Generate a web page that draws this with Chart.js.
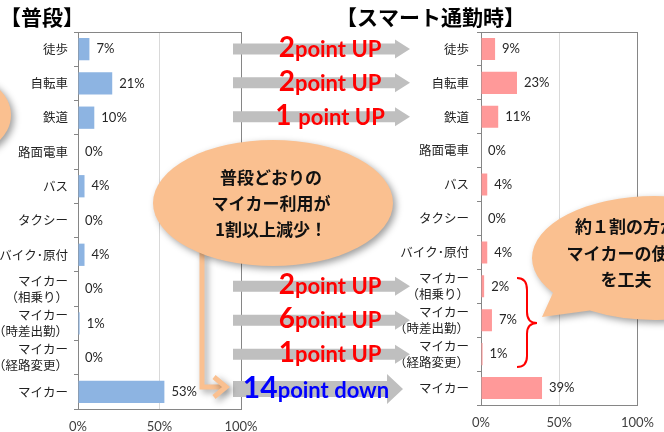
<!DOCTYPE html>
<html><head><meta charset="utf-8">
<script src="https://cdn.jsdelivr.net/npm/chart.js@4.4.1/dist/chart.umd.min.js"></script>
<style>
html,body{margin:0;padding:0;background:#fff;}
#wrap{position:relative;width:664px;height:432px;overflow:hidden;background:#fff;}
canvas{position:absolute;left:0;top:0;}
</style></head><body>
<div id="wrap"><canvas id="c1" width="664" height="432"></canvas><canvas id="c2" width="664" height="432"></canvas></div>
<script>
// ---- data ----
const categories = [['徒歩'],['自転車'],['鉄道'],['路面電車'],['バス'],['タクシー'],['バイク･原付'],['マイカー','（相乗り）'],['マイカー','（時差出勤）'],['マイカー','（経路変更）'],['マイカー']];
const normalValues = [7,21,10,0,4,0,4,0,1,0,53];
const smartValues  = [9,23,11,0,4,0,4,2,7,1,39];
const xTicks = [0,50,100];
const changeRows  = [0,1,2,7,8,9,10];
const changeNums  = ['2','2','1 ','2','6','1','14'];
const changeWords = ['point UP','point UP','point UP','point UP','point UP','point UP','point down'];
const titleNormal = '【普段】';
const titleSmart = '【スマート通勤時】';
const bubbleLeftLines = ['普段どおりの','マイカー利用が','1割以上減少！'];
const bubbleRightLines = ['約１割の方が','マイカーの使用','を工夫'];

const JP = '"Noto Sans CJK JP"';

const valueLabels = {
  id:'valueLabels',
  afterDatasetsDraw(chart){
    const ctx = chart.ctx;
    const meta = chart.getDatasetMeta(0);
    const vals = chart.data.datasets[0].data;
    ctx.save();
    ctx.font = '13px Lato';
    ctx.fillStyle = '#262626';
    ctx.textAlign = 'left';
    ctx.textBaseline = 'middle';
    meta.data.forEach((bar,i)=>{
      ctx.fillText(vals[i]+'%', bar.x + 7, bar.y);
    });
    ctx.restore();
  }
};

const frameTop = {
  id:'frameTop',
  afterDraw(chart){
    const a = chart.chartArea, ctx = chart.ctx;
    ctx.save();
    ctx.strokeStyle = '#868686'; ctx.lineWidth = 1;
    ctx.beginPath(); ctx.moveTo(a.left, a.top+0.5); ctx.lineTo(a.right, a.top+0.5); ctx.stroke();
    ctx.restore();
  }
};

function makeOptions(cfg){
  return {
    indexAxis:'y', responsive:false, animation:false,
    layout:{padding:{left:0,right:cfg.padRight,top:32,bottom:0}},
    plugins:{legend:{display:false},tooltip:{enabled:false},title:{display:false}},
    scales:{
      x:{min:0,max:100,
        afterBuildTicks:(s)=>{ s.ticks = xTicks.map(v=>({value:v})); },
        ticks:{callback:v=>v+'%',color:'#404040',font:{family:'Lato',size:13},padding:10,maxRotation:0,autoSkip:false},
        grid:{drawTicks:false,lineWidth:1,
          color:c=> (c.tick && c.tick.value===50) ? '#D9D9D9' : ((c.tick && c.tick.value===100) ? '#868686' : 'rgba(0,0,0,0)')},
        border:{color:'#868686'},
        afterFit:s=>{ s.height = cfg.xHeight; }
      },
      y:{
        ticks:{color:'#222',font:{family:'Noto Sans CJK JP',size:12.5,lineHeight:1.3},padding:cfg.yPad,autoSkip:false},
        grid:{drawOnChartArea:false,drawTicks:true,tickLength:4,color:'#868686'},
        border:{color:'#868686'},
        afterFit:s=>{ s.width = cfg.yWidth; }
      }
    }
  };
}

// ---- overlay drawing ----
function grayArrow(ctx, y, x0, xHead, xTip, bodyH, headH){
  ctx.beginPath();
  ctx.moveTo(x0, y-bodyH/2); ctx.lineTo(xHead, y-bodyH/2); ctx.lineTo(xHead, y-headH/2);
  ctx.lineTo(xTip, y); ctx.lineTo(xHead, y+headH/2); ctx.lineTo(xHead, y+bodyH/2);
  ctx.lineTo(x0, y+bodyH/2); ctx.closePath(); ctx.fill();
}
function shadowOn(ctx){
  ctx.shadowColor = 'rgba(0,0,0,0.38)'; ctx.shadowBlur = 7; ctx.shadowOffsetX = 3; ctx.shadowOffsetY = 3;
}
function shadowOff(ctx){
  ctx.shadowColor = 'rgba(0,0,0,0)'; ctx.shadowBlur = 0; ctx.shadowOffsetX = 0; ctx.shadowOffsetY = 0;
}

const overlay = {
  id:'overlay',
  afterDraw(chart){
    const ctx = chart.ctx, ys = chart.scales.y;
    const orange = '#FAC090';
    ctx.save();
    // titles
    ctx.fillStyle = '#000';
    ctx.textBaseline = 'middle'; ctx.textAlign = 'left';
    ctx.font = 'bold 21px '+JP;
    ctx.fillText(titleNormal, 0, 17);
    ctx.fillText(titleSmart, 336, 17);

    // gray arrows
    ctx.fillStyle = '#BFBFBF';
    changeRows.forEach((r,i)=>{
      const y = ys.getPixelForValue(r);
      if (changeWords[i].indexOf('down')>=0) grayArrow(ctx, y+1, 233, 387, 403, 16, 30);
      else grayArrow(ctx, y, 233, 395, 410, 11, 19);
    });
    // arrow texts
    ctx.textAlign = 'left'; ctx.textBaseline = 'alphabetic';
    changeRows.forEach((r,i)=>{
      const y = ys.getPixelForValue(r);
      const down = changeWords[i].indexOf('down')>=0;
      const numFont = down ? 'bold 30px Lato' : 'bold 28px Lato';
      const wordFont = 'bold 22px Lato';
      ctx.font = numFont; const nw = ctx.measureText(changeNums[i]).width;
      ctx.font = wordFont; const ww = ctx.measureText(changeWords[i]).width;
      const cx = down ? 316 : 330;
      const sx = cx - (nw+ww)/2;
      const base = y + (down ? 10 : 8);
      ctx.fillStyle = down ? '#0000FF' : '#FF0000';
      ctx.font = numFont; ctx.fillText(changeNums[i], sx, base);
      ctx.font = wordFont; ctx.fillText(changeWords[i], sx+nw, base);
    });

    // far-left partial bubble
    shadowOn(ctx);
    ctx.fillStyle = orange;
    ctx.beginPath(); ctx.ellipse(-39, 115, 50, 40, 0, 0, Math.PI*2); ctx.fill();

    // left bubble pointer (L-shaped arrow)
    ctx.strokeStyle = orange; ctx.lineWidth = 5; ctx.lineJoin = 'miter'; ctx.lineCap = 'butt';
    ctx.beginPath(); ctx.moveTo(202, 250); ctx.lineTo(202, 387); ctx.lineTo(225, 387); ctx.stroke();
    ctx.beginPath(); ctx.moveTo(214, 377); ctx.lineTo(226, 387); ctx.lineTo(214, 397); ctx.stroke();

    // left bubble
    ctx.beginPath(); ctx.ellipse(273, 203, 120, 63, 0, 0, Math.PI*2); ctx.fill();

    // right callout bubble
    const cx = 655, cy = 258, rx = 123, ry = 62;
    const a1 = 146*Math.PI/180, a2 = 122*Math.PI/180;
    ctx.beginPath();
    ctx.ellipse(cx, cy, rx, ry, 0, a1, a2 + Math.PI*2, false);
    ctx.lineTo(542, 317);
    ctx.closePath(); ctx.fill();
    shadowOff(ctx);

    // bubble texts
    ctx.fillStyle = '#111';
    ctx.font = 'bold 17px '+JP; ctx.textAlign = 'center'; ctx.textBaseline = 'middle';
    bubbleLeftLines.forEach((t,i)=> ctx.fillText(t, 271, 178 + i*26));
    bubbleRightLines.forEach((t,i)=> ctx.fillText(t, 626, 227 + i*26.5));

    // red brace
    ctx.strokeStyle = '#FF0000'; ctx.lineWidth = 2;
    ctx.beginPath();
    ctx.moveTo(517,278);
    ctx.quadraticCurveTo(527,278,527,290);
    ctx.lineTo(527,312);
    ctx.quadraticCurveTo(527,323,537,323);
    ctx.quadraticCurveTo(527,323,527,334);
    ctx.lineTo(527,356);
    ctx.quadraticCurveTo(527,367,517,367);
    ctx.stroke();
    ctx.restore();
  }
};

new Chart(document.getElementById('c1'), {
  type:'bar',
  data:{labels:categories, datasets:[{data:normalValues, backgroundColor:'#8DB4E2', categoryPercentage:0.65, barPercentage:1}]},
  options: makeOptions({padRight:423, xHeight:23, yWidth:78, yPad:6}),
  plugins:[valueLabels, frameTop]
});
new Chart(document.getElementById('c2'), {
  type:'bar',
  data:{labels:categories, datasets:[{data:smartValues, backgroundColor:'#FF9999', categoryPercentage:0.65, barPercentage:1}]},
  options: makeOptions({padRight:22, xHeight:27, yWidth:481, yPad:8}),
  plugins:[valueLabels, frameTop, overlay]
});
</script>
</body></html>
